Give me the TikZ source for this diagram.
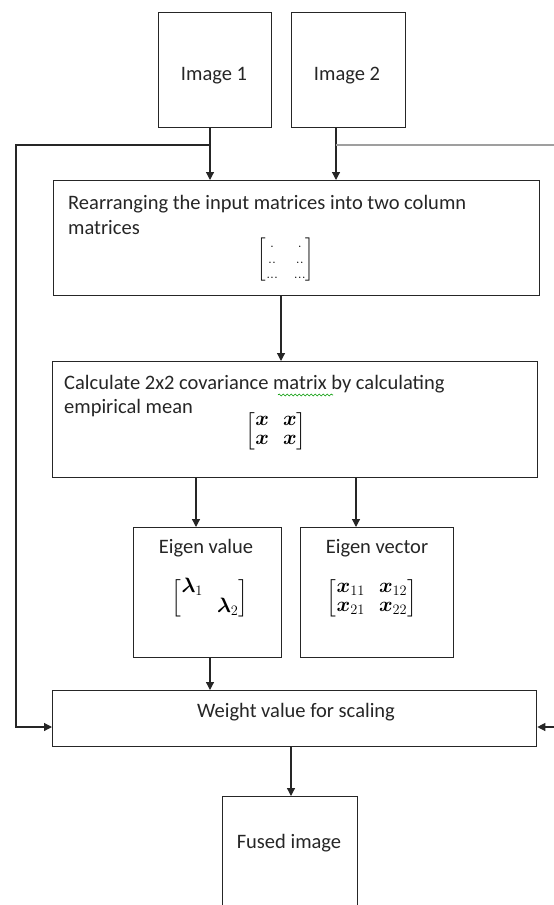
\documentclass[tikz,border=0pt]{standalone}
\usepackage{amsmath}
\usepackage{bm}
\usepackage{fontspec}
\setmainfont{Carlito}
\usetikzlibrary{arrows.meta, positioning, calc, decorations.pathmorphing}

\newcommand{\matsize}{\fontsize{20}{22}\selectfont\setlength{\arraycolsep}{7pt}\renewcommand{\arraystretch}{0.9}}

\begin{document}
\begin{tikzpicture}[
    x=1pt, y=-1pt,
    font=\fontsize{20.5}{25}\selectfont,
    box/.style  = {rectangle, draw=black!85, line width=1.3pt, fill=white,
                   inner sep=0pt, anchor=north west},
    txt/.style  = {inner sep=0pt, text=black!85},
    line/.style = {txt, anchor=base west},
    mat/.style  = {inner sep=0pt, font=\matsize},
    link/.style = {line width=1.2pt, draw=black!85},
    arr/.style  = {link, -{Triangle[length=8pt,width=8pt]}},
    side/.style = {line width=2.2pt, draw=gray!75},
    spell/.style= {draw=green!60!black, line width=0.6pt,
                   decorate, decoration={snake, segment length=4pt, amplitude=1pt}},
]
\useasboundingbox (0,0) rectangle (554,905);

% ---- input images ----
\node[box, minimum width=113pt, minimum height=115pt] (img1) at (158,12) {};
\node[box, minimum width=114pt, minimum height=115pt] (img2) at (291,12) {};
\node[txt] (img1t) at (214,76) {Image 1};
\node[txt] (img2t) at (347,76) {Image 2};

% ---- processing boxes ----
\node[box, minimum width=486pt, minimum height=115pt] (rearr)  at (53,180)  {};
\node[box, minimum width=485pt, minimum height=116pt] (cov)    at (52,361)  {};
\node[box, minimum width=148pt, minimum height=130pt] (eigval) at (133,527) {};
\node[box, minimum width=153pt, minimum height=130pt] (eigvec) at (300,527) {};
\node[box, minimum width=484pt, minimum height=56pt]  (weight) at (52,690)  {};
\node[box, minimum width=135pt, minimum height=125pt] (fused)  at (222,796) {};

% ---- texts ----
\node[line] (rearrt1) at (68,209) {Rearranging the input matrices into two column};
\node[line] (rearrt2) at ($(rearrt1.base west)+(0,25)$) {matrices};
\node[line] (covt1) at (64,389) {Calculate 2x2 covariance matrix by calculating};
\node[line] (covt2) at ($(covt1.base west)+(0,24)$) {empirical mean};
\node[txt] (eigvalt) at (206,548) {Eigen value};
\node[txt] (eigvect) at (377,548) {Eigen vector};
\node[txt] (weightt) at (296,712) {Weight value for scaling};
\node[txt] (fusedt)  at (289,843) {Fused image};

% spell-check wave under "matrix"
\draw[spell] (278,395) -- (333,395);

% ---- matrices ----
\node[mat] (rmat) at (286,260)
     {\fontsize{15}{17}\selectfont\setlength{\arraycolsep}{8pt}$\begin{bmatrix} . & . \\ .. & .. \\ ... & ... \end{bmatrix}$};
\node[mat] (cmat) at (276,431)
     {$\begin{bmatrix} \bm{x} & \bm{x} \\ \bm{x} & \bm{x} \end{bmatrix}$};
\node[mat] (vmat) at (210,598)
     {$\begin{bmatrix} \bm{\lambda}_1 & \\ & \bm{\lambda}_2 \end{bmatrix}$};
\node[mat] (xmat) at (372,598)
     {$\begin{bmatrix} \bm{x}_{11} & \bm{x}_{12} \\ \bm{x}_{21} & \bm{x}_{22} \end{bmatrix}$};

% ---- connector columns ----
\coordinate (tap1) at (210,145);
\coordinate (tap2) at (336,145);
\coordinate (lft)  at (16,145);
\coordinate (lin)  at (16,727);
\coordinate (rgt)  at (554,145);
\coordinate (rin)  at (554,727);
\coordinate (c1) at (281,0);
\coordinate (c2) at (196,0);
\coordinate (c3) at (356,0);
\coordinate (c4) at (210,0);
\coordinate (c5) at (291,0);

% ---- forward flow ----
\draw[link] (tap1 |- img1.south) -- (tap1);
\draw[arr]  (tap1) -- (tap1 |- rearr.north);
\draw[link] (tap2 |- img2.south) -- (tap2);
\draw[arr]  (tap2) -- (tap2 |- rearr.north);
\draw[arr]  (c1 |- rearr.south) -- (c1 |- cov.north);
\draw[arr]  (c2 |- cov.south) -- (c2 |- eigval.north);
\draw[arr]  (c3 |- cov.south) -- (c3 |- eigvec.north);
\draw[arr]  (c4 |- eigval.south) -- (c4 |- weight.north);
\draw[arr]  (c5 |- weight.south) -- (c5 |- fused.north);

% ---- side paths into the weight box ----
\draw[arr]  (tap1) -- (lft) -- (lin) -- (lin -| weight.west);
\draw[side] (tap2) -- (rgt);
\draw[arr]  (rin) -- (rin -| weight.east);

\end{tikzpicture}
\end{document}
